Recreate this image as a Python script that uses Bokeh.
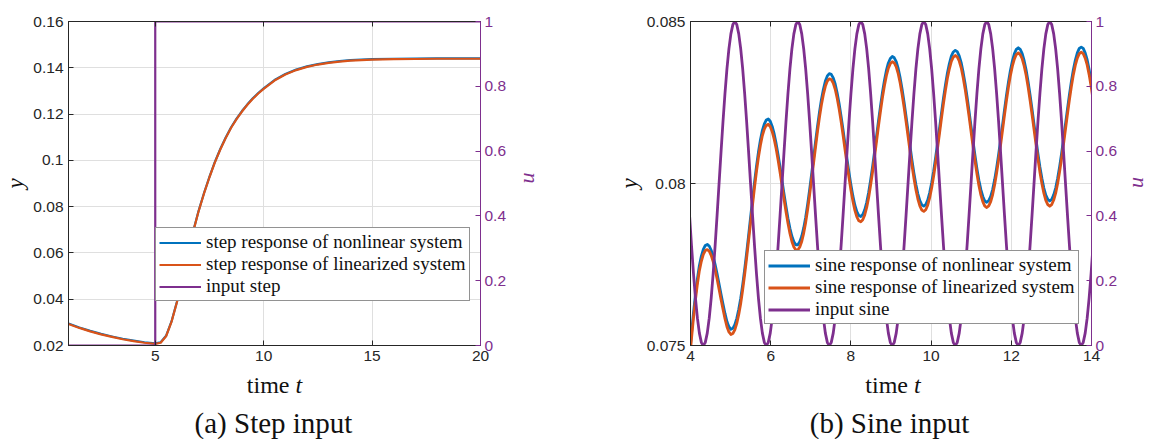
import math
import numpy as np
from bokeh.plotting import figure
from bokeh.models import (Range1d, LinearAxis, FixedTicker, PrintfTickFormatter,
                          Legend, LegendItem, Label)
from bokeh.layouts import row, column
from bokeh.embed import file_html
from bokeh.resources import INLINE

BLUE = "#0072BD"
ORANGE = "#D95319"
PURPLE = "#7E2F8E"
AXIS = "#262626"
GRID = "#DFDFDF"
INK = "#111111"
SERIF = "Liberation Serif"
SANS = "Liberation Sans"

# ---------------- (a) step input ----------------
step_t = [1.0, 1.5, 2.0, 2.5, 3.0, 3.5, 4.0, 4.5,
          5.0, 5.25, 5.5, 5.75, 6.0, 6.25, 6.5, 6.75, 7.0, 7.25, 7.5, 7.75,
          8.0, 8.25, 8.5, 8.75, 9.0, 9.25, 9.5, 9.75, 10.0,
          10.5, 11.0, 11.5, 12.0, 12.5, 13.0, 13.5, 14.0,
          15.0, 16.0, 17.0, 18.0, 19.0, 20.0]
step_y_linear = [0.0293, 0.0276, 0.0261, 0.0248, 0.0237, 0.0227, 0.0219, 0.0212,
                 0.0207, 0.0212, 0.0240, 0.0302, 0.0387, 0.0487, 0.0592, 0.0692, 0.0780, 0.0857, 0.0927, 0.0991,
                 0.1047, 0.1097, 0.1141, 0.1178, 0.1211, 0.1240, 0.1266, 0.1289, 0.1309,
                 0.1345, 0.1371, 0.1390, 0.1404, 0.1414, 0.1421, 0.1427, 0.1431,
                 0.1435, 0.1437, 0.1438, 0.1439, 0.1439, 0.1439]
step_y_nonlinear = [0.0295, 0.0278, 0.0263, 0.0250, 0.0239, 0.0229, 0.0221, 0.0214,
                    0.0209, 0.0214, 0.0242, 0.0304, 0.0389, 0.0489, 0.0594, 0.0694, 0.0782, 0.0859, 0.0929, 0.0993,
                    0.1049, 0.1099, 0.1143, 0.1180, 0.1213, 0.1242, 0.1268, 0.1291, 0.1311,
                    0.1347, 0.1373, 0.1392, 0.1406, 0.1416, 0.1423, 0.1429, 0.1433,
                    0.1437, 0.1439, 0.1440, 0.1441, 0.1441, 0.1441]
step_u_t = [1.0, 5.0, 5.0, 20.0]
step_u = [0.0, 0.0, 1.0, 1.0]

# ---------------- (b) sine input ----------------
# simulation output sampled every pi/64 s
sine_t = np.arange(81, 287) * np.pi / 64

sine_y_nonlinear = [
    0.07470, 0.07538, 0.07601, 0.07657, 0.07706, 0.07747, 0.07776, 0.07797, 0.07809, 0.07812, 0.07807, 0.07794, 0.07775, 0.07750, 0.07721, 0.07690,
    0.07658, 0.07628, 0.07599, 0.07574, 0.07558, 0.07550, 0.07553, 0.07564, 0.07584, 0.07612, 0.07646, 0.07688, 0.07735, 0.07786, 0.07840, 0.07895,
    0.07950, 0.08003, 0.08053, 0.08097, 0.08134, 0.08164, 0.08184, 0.08196, 0.08199, 0.08192, 0.08176, 0.08153, 0.08123, 0.08088, 0.08050, 0.08009,
    0.07968, 0.07929, 0.07893, 0.07862, 0.07837, 0.07820, 0.07811, 0.07811, 0.07820, 0.07837, 0.07863, 0.07896, 0.07936, 0.07981, 0.08029, 0.08078,
    0.08128, 0.08176, 0.08220, 0.08259, 0.08291, 0.08316, 0.08332, 0.08339, 0.08337, 0.08326, 0.08307, 0.08279, 0.08246, 0.08207, 0.08165, 0.08120,
    0.08076, 0.08034, 0.07995, 0.07961, 0.07933, 0.07913, 0.07901, 0.07898, 0.07904, 0.07919, 0.07942, 0.07973, 0.08011, 0.08053, 0.08099, 0.08146,
    0.08194, 0.08239, 0.08281, 0.08318, 0.08349, 0.08372, 0.08386, 0.08392, 0.08388, 0.08376, 0.08355, 0.08326, 0.08291, 0.08251, 0.08207, 0.08162,
    0.08116, 0.08072, 0.08032, 0.07997, 0.07968, 0.07947, 0.07934, 0.07930, 0.07935, 0.07949, 0.07972, 0.08002, 0.08038, 0.08080, 0.08125, 0.08171,
    0.08218, 0.08263, 0.08304, 0.08341, 0.08370, 0.08393, 0.08406, 0.08411, 0.08407, 0.08394, 0.08373, 0.08343, 0.08308, 0.08267, 0.08223, 0.08177,
    0.08131, 0.08087, 0.08046, 0.08010, 0.07981, 0.07960, 0.07946, 0.07942, 0.07947, 0.07960, 0.07982, 0.08012, 0.08048, 0.08089, 0.08134, 0.08180,
    0.08227, 0.08272, 0.08313, 0.08349, 0.08378, 0.08400, 0.08414, 0.08419, 0.08414, 0.08401, 0.08379, 0.08350, 0.08314, 0.08273, 0.08229, 0.08183,
    0.08137, 0.08092, 0.08051, 0.08016, 0.07986, 0.07964, 0.07951, 0.07946, 0.07951, 0.07965, 0.07986, 0.08016, 0.08052, 0.08093, 0.08138, 0.08184,
    0.08230, 0.08275, 0.08316, 0.08352, 0.08381, 0.08403, 0.08417, 0.08421, 0.08417, 0.08403, 0.08382, 0.08352, 0.08316, 0.08275,
]

sine_y_linear = [
    0.07454, 0.07522, 0.07585, 0.07641, 0.07690, 0.07731, 0.07760, 0.07781, 0.07793, 0.07796, 0.07791, 0.07778, 0.07759, 0.07734, 0.07705, 0.07674,
    0.07642, 0.07612, 0.07583, 0.07558, 0.07542, 0.07534, 0.07537, 0.07548, 0.07568, 0.07596, 0.07630, 0.07672, 0.07719, 0.07770, 0.07824, 0.07879,
    0.07934, 0.07987, 0.08037, 0.08081, 0.08118, 0.08148, 0.08168, 0.08180, 0.08183, 0.08176, 0.08160, 0.08137, 0.08107, 0.08072, 0.08034, 0.07993,
    0.07952, 0.07913, 0.07877, 0.07846, 0.07821, 0.07804, 0.07795, 0.07795, 0.07804, 0.07821, 0.07847, 0.07880, 0.07920, 0.07965, 0.08013, 0.08062,
    0.08112, 0.08160, 0.08204, 0.08243, 0.08275, 0.08300, 0.08316, 0.08323, 0.08321, 0.08310, 0.08291, 0.08263, 0.08230, 0.08191, 0.08149, 0.08104,
    0.08060, 0.08018, 0.07979, 0.07945, 0.07917, 0.07897, 0.07885, 0.07882, 0.07888, 0.07903, 0.07926, 0.07957, 0.07995, 0.08037, 0.08083, 0.08130,
    0.08178, 0.08223, 0.08265, 0.08302, 0.08333, 0.08356, 0.08370, 0.08376, 0.08372, 0.08360, 0.08339, 0.08310, 0.08275, 0.08235, 0.08191, 0.08146,
    0.08100, 0.08056, 0.08016, 0.07981, 0.07952, 0.07931, 0.07918, 0.07914, 0.07919, 0.07933, 0.07956, 0.07986, 0.08022, 0.08064, 0.08109, 0.08155,
    0.08202, 0.08247, 0.08288, 0.08325, 0.08354, 0.08377, 0.08390, 0.08395, 0.08391, 0.08378, 0.08357, 0.08327, 0.08292, 0.08251, 0.08207, 0.08161,
    0.08115, 0.08071, 0.08030, 0.07994, 0.07965, 0.07944, 0.07930, 0.07926, 0.07931, 0.07944, 0.07966, 0.07996, 0.08032, 0.08073, 0.08118, 0.08164,
    0.08211, 0.08256, 0.08297, 0.08333, 0.08362, 0.08384, 0.08398, 0.08403, 0.08398, 0.08385, 0.08363, 0.08334, 0.08298, 0.08257, 0.08213, 0.08167,
    0.08121, 0.08076, 0.08035, 0.08000, 0.07970, 0.07948, 0.07935, 0.07930, 0.07935, 0.07949, 0.07970, 0.08000, 0.08036, 0.08077, 0.08122, 0.08168,
    0.08214, 0.08259, 0.08300, 0.08336, 0.08365, 0.08387, 0.08401, 0.08405, 0.08401, 0.08387, 0.08366, 0.08336, 0.08300, 0.08259,
]

sine_u = [
    0.4025, 0.3087, 0.2222, 0.1464, 0.0843, 0.0381, 0.0096, 0.0, 0.0096, 0.0381, 0.0843, 0.1464, 0.2222, 0.3087, 0.4025,
    0.5, 0.5975, 0.6913, 0.7778, 0.8536, 0.9157, 0.9619, 0.9904, 1.0, 0.9904, 0.9619, 0.9157, 0.8536, 0.7778, 0.6913, 0.5975,
    0.5, 0.4025, 0.3087, 0.2222, 0.1464, 0.0843, 0.0381, 0.0096, 0.0, 0.0096, 0.0381, 0.0843, 0.1464, 0.2222, 0.3087, 0.4025,
    0.5, 0.5975, 0.6913, 0.7778, 0.8536, 0.9157, 0.9619, 0.9904, 1.0, 0.9904, 0.9619, 0.9157, 0.8536, 0.7778, 0.6913, 0.5975,
    0.5, 0.4025, 0.3087, 0.2222, 0.1464, 0.0843, 0.0381, 0.0096, 0.0, 0.0096, 0.0381, 0.0843, 0.1464, 0.2222, 0.3087, 0.4025,
    0.5, 0.5975, 0.6913, 0.7778, 0.8536, 0.9157, 0.9619, 0.9904, 1.0, 0.9904, 0.9619, 0.9157, 0.8536, 0.7778, 0.6913, 0.5975,
    0.5, 0.4025, 0.3087, 0.2222, 0.1464, 0.0843, 0.0381, 0.0096, 0.0, 0.0096, 0.0381, 0.0843, 0.1464, 0.2222, 0.3087, 0.4025,
    0.5, 0.5975, 0.6913, 0.7778, 0.8536, 0.9157, 0.9619, 0.9904, 1.0, 0.9904, 0.9619, 0.9157, 0.8536, 0.7778, 0.6913, 0.5975,
    0.5, 0.4025, 0.3087, 0.2222, 0.1464, 0.0843, 0.0381, 0.0096, 0.0, 0.0096, 0.0381, 0.0843, 0.1464, 0.2222, 0.3087, 0.4025,
    0.5, 0.5975, 0.6913, 0.7778, 0.8536, 0.9157, 0.9619, 0.9904, 1.0, 0.9904, 0.9619, 0.9157, 0.8536, 0.7778, 0.6913, 0.5975,
    0.5, 0.4025, 0.3087, 0.2222, 0.1464, 0.0843, 0.0381, 0.0096, 0.0, 0.0096, 0.0381, 0.0843, 0.1464, 0.2222, 0.3087, 0.4025,
    0.5, 0.5975, 0.6913, 0.7778, 0.8536, 0.9157, 0.9619, 0.9904, 1.0, 0.9904, 0.9619, 0.9157, 0.8536, 0.7778, 0.6913, 0.5975,
    0.5, 0.4025, 0.3087, 0.2222, 0.1464, 0.0843, 0.0381, 0.0096, 0.0, 0.0096, 0.0381, 0.0843, 0.1464, 0.2222, 0.3087,
]

step_x_ticks = [5, 10, 15, 20]
step_y_ticks = [0.02, 0.04, 0.06, 0.08, 0.1, 0.12, 0.14, 0.16]
sine_x_ticks = [4, 6, 8, 10, 12, 14]
sine_y_ticks = [0.075, 0.08, 0.085]
u_ticks = [0, 0.2, 0.4, 0.6, 0.8, 1]

step_labels = ["step response of nonlinear system",
               "step response of linearized system",
               "input step"]
sine_labels = ["sine response of nonlinear system",
               "sine response of linearized system",
               "input sine"]

PANEL_H = 368
CAPTION_H = 439 - PANEL_H
U_STRIP_W = 30


def style_axis(ax, ticks, color, standoff=5):
    ax.ticker = FixedTicker(ticks=ticks)
    ax.formatter = PrintfTickFormatter(format="%g")
    ax.major_tick_in = 5
    ax.major_tick_out = 0
    ax.minor_tick_line_color = None
    ax.axis_line_color = color
    ax.major_tick_line_color = color
    ax.major_label_text_color = color
    ax.major_label_text_font = SANS
    ax.major_label_text_font_size = "15.5px"
    ax.major_label_standoff = standoff


def make_panel(width, x_rng, y_rng, x_ticks, y_ticks, border_left, border_right,
               u_label=True, u_standoff=12):
    p = figure(width=width, height=PANEL_H, x_range=Range1d(*x_rng), y_range=Range1d(*y_rng),
               output_backend="svg", toolbar_location=None,
               min_border_left=border_left, min_border_right=border_right,
               min_border_top=21, min_border_bottom=PANEL_H - 345)
    p.background_fill_color = "white"
    p.border_fill_color = "white"
    p.outline_line_color = AXIS
    p.outline_line_width = 1
    p.extra_y_ranges = {"u": Range1d(0, 1)}

    style_axis(p.xaxis[0], x_ticks, AXIS, standoff=5)
    style_axis(p.yaxis[0], y_ticks, AXIS)
    p.yaxis[0].axis_label = "y"
    p.yaxis[0].axis_label_text_font = SERIF
    p.yaxis[0].axis_label_text_font_style = "italic"
    p.yaxis[0].axis_label_text_font_size = "23px"
    p.yaxis[0].axis_label_text_color = INK
    p.yaxis[0].axis_label_standoff = 2

    # tick marks along the top edge of the box, no labels
    top = LinearAxis()
    style_axis(top, x_ticks, AXIS)
    top.major_label_text_color = None
    top.major_label_text_font_size = "1px"
    top.major_label_standoff = 0
    p.add_layout(top, "above")

    right = LinearAxis(y_range_name="u")
    style_axis(right, u_ticks, PURPLE, standoff=4)
    if u_label:
        right.axis_label = "u"
        right.axis_label_orientation = math.pi / 2
        right.axis_label_text_font = SERIF
        right.axis_label_text_font_style = "italic"
        right.axis_label_text_font_size = "22px"
        right.axis_label_text_color = PURPLE
        right.axis_label_standoff = u_standoff
    p.add_layout(right, "right")

    p.xgrid.grid_line_color = GRID
    p.ygrid.grid_line_color = GRID
    return p


def u_strip(x_center, y_center):
    s = figure(width=U_STRIP_W, height=PANEL_H, x_range=Range1d(0, U_STRIP_W),
               y_range=Range1d(0, PANEL_H), x_axis_type=None, y_axis_type=None,
               output_backend="svg", toolbar_location=None, min_border=0)
    s.outline_line_color = None
    s.background_fill_color = "white"
    s.border_fill_color = "white"
    s.add_layout(Label(x=x_center, y=PANEL_H - y_center, text="u", angle=math.pi / 2,
                       text_align="center", text_baseline="middle", text_font=SERIF,
                       text_font_style="italic", text_font_size="22px", text_color=PURPLE))
    return s


def caption_panel(width, frame_center, caption_center, caption):
    c = figure(width=width, height=CAPTION_H, x_range=Range1d(0, width),
               y_range=Range1d(0, CAPTION_H), x_axis_type=None, y_axis_type=None,
               output_backend="svg", toolbar_location=None, min_border=0)
    c.outline_line_color = None
    c.background_fill_color = "white"
    c.border_fill_color = "white"
    y_time = CAPTION_H - (384 - PANEL_H)
    y_cap = CAPTION_H - (422 - PANEL_H)
    c.add_layout(Label(x=frame_center + 15, y=y_time, text="time", text_align="right",
                       text_baseline="middle", text_font=SERIF,
                       text_font_size="24px", text_color=INK))
    c.add_layout(Label(x=frame_center + 21, y=y_time, text="t", text_align="left",
                       text_baseline="middle", text_font=SERIF, text_font_style="italic",
                       text_font_size="24px", text_color=INK))
    c.add_layout(Label(x=caption_center, y=y_cap, text=caption, text_align="center",
                       text_baseline="middle", text_font=SERIF,
                       text_font_size="29px", text_color=INK))
    return c


def add_legend(p, renderers, labels, loc):
    items = [LegendItem(label=lab, renderers=[r]) for lab, r in zip(labels, renderers)]
    leg = Legend(items=items, location=loc)
    leg.label_text_font = SERIF
    leg.label_text_font_size = "19px"
    leg.label_text_color = INK
    leg.glyph_width = 42
    leg.glyph_height = 21
    leg.label_height = 21
    leg.label_standoff = 5
    leg.padding = 3
    leg.spacing = 0
    leg.margin = 0
    leg.border_line_color = AXIS
    leg.border_line_width = 1
    leg.background_fill_alpha = 1
    p.add_layout(leg)


# ---- panel (a): frame spans x 68..480
pa = make_panel(575, (1, 20), (0.02, 0.16), step_x_ticks, step_y_ticks, 68, 95,
                u_label=True, u_standoff=17)
ra1 = pa.line(step_t, step_y_nonlinear, color=BLUE, line_width=2.2, line_join="round")
ra2 = pa.line(step_t, step_y_linear, color=ORANGE, line_width=2.2, line_join="round")
ra3 = pa.line(step_u_t, step_u, color=PURPLE, line_width=2.2, y_range_name="u")
add_legend(pa, [ra1, ra2, ra3], step_labels, (87, 44))
ca = caption_panel(575, 274, 273, "(a) Step input")

# ---- panel (b): frame spans x 690..1095, "u" label drawn in its own strip
pb_width = 1150 - 575 - U_STRIP_W
pb = make_panel(pb_width, (4, 14), (0.075, 0.085), sine_x_ticks, sine_y_ticks, 115,
                pb_width - 115 - 405, u_label=False)
rb1 = pb.line(sine_t, sine_y_nonlinear, color=BLUE, line_width=2.8, line_join="round")
rb2 = pb.line(sine_t, sine_y_linear, color=ORANGE, line_width=2.8, line_join="round")
rb3 = pb.line(sine_t, sine_u, color=PURPLE, line_width=2.8, line_join="round", y_range_name="u")
add_legend(pb, [rb1, rb2, rb3], sine_labels, (74, 21))
ub = u_strip(15, 183)
cb = caption_panel(575, 317.5, 314, "(b) Sine input")

layout = column(row(pa, pb, ub), row(ca, cb))
open("out.html", "w").write(file_html(layout, INLINE))
